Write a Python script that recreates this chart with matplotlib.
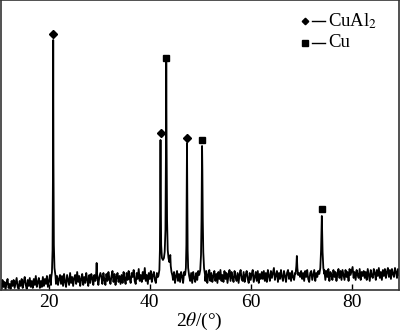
import numpy as np
import matplotlib
matplotlib.use("Agg")
import matplotlib.pyplot as plt

# ====== data (intensity in arbitrary units) ======
# background noise, sampled every 0.2 deg from 10.4 to 89.4
bg_start, bg_stop = 10.4, 89.4
bg = [
    6, 1, 10, 3, 8, 0, 7, 11, 2, 6, 1, 9, 4, 10, 2, 7, 12, 3, 1, 9,
    4, 11, 2, 8, 13, 5, 1, 10, 4, 12, 3, 9, 2, 11, 5, 14, 3, 8, 12, 2,
    9, 3, 13, 4, 11, 6, 14, 3, 9, 15, 5, 12, 4, 13, 16, 6, 14, 5, 11, 15,
    6, 14, 4, 16, 8, 3, 15, 10, 5, 17, 7, 13, 4, 12, 15, 6, 18, 8, 14, 4,
    11, 16, 5, 13, 7, 17, 10, 4, 15, 7, 16, 12, 5, 15, 9, 6, 16, 5, 13, 17,
    13, 6, 17, 10, 5, 16, 9, 18, 11, 6, 14, 19, 8, 16, 5, 13, 17, 8, 14, 6,
    15, 7, 18, 11, 6, 17, 10, 19, 12, 7, 17, 13, 20, 9, 6, 17, 11, 21, 9, 15,
    8, 18, 11, 22, 9, 15, 6, 17, 11, 19, 8, 15, 18, 10, 7, 17, 13, 9, 16, 12,
    14, 8, 18, 11, 7, 17, 12, 8, 19, 9, 16, 10, 18, 7, 14, 19, 9, 16, 8, 18,
    14, 7, 18, 10, 16, 8, 19, 12, 9, 17, 7, 18, 12, 8, 17, 10, 19, 12, 8, 16,
    16, 10, 18, 9, 19, 7, 15, 20, 9, 17, 8, 14, 19, 9, 16, 7, 18, 11, 20, 9,
    15, 8, 19, 11, 17, 7, 15, 20, 9, 18, 12, 8, 19, 13, 9, 17, 7, 16, 20, 11,
    9, 18, 8, 15, 19, 11, 7, 17, 10, 16, 20, 8, 13, 18, 9, 19, 7, 16, 11, 18,
    11, 19, 9, 17, 8, 20, 14, 9, 19, 12, 17, 22, 10, 15, 19, 8, 17, 11, 20, 13,
    9, 19, 14, 8, 17, 20, 11, 17, 9, 19, 13, 10, 17, 19, 11, 9, 17, 13, 19, 11,
    17, 9, 19, 13, 20, 11, 8, 17, 19, 10, 15, 20, 9, 17, 13, 19, 10, 17, 12, 19,
    16, 20, 10, 19, 13, 21, 9, 18, 15, 10, 20, 13, 18, 9, 16, 21, 12, 19, 10, 20,
    15, 10, 20, 13, 18, 9, 21, 15, 19, 23, 12, 18, 10, 20, 15, 12, 21, 10, 18, 14,
    19, 12, 18, 10, 21, 15, 9, 20, 14, 12, 21, 17, 10, 20, 14, 22, 12, 18, 10, 20,
    14, 21, 12, 18, 22, 13, 20, 11, 21, 16, 13, 22, 18, 12, 21, 15,
]

# peak profiles (2theta, intensity)
pk_tt = [
    [20.45, 20.6, 20.72, 20.8, 20.85, 20.9, 20.98, 21.1, 21.3],
    [29.3, 29.4, 29.46, 29.52, 29.65],
    [41.7, 41.9, 42.0, 42.08, 42.12, 42.17, 42.25, 42.4, 42.6, 42.8, 42.95,
     43.1, 43.2, 43.26, 43.32, 43.42, 43.55, 43.7, 43.85, 43.95, 44.06, 44.15, 44.3, 44.5],
    [47.0, 47.15, 47.25, 47.32, 47.37, 47.42, 47.5, 47.6, 47.8],
    [49.8, 50.0, 50.15, 50.25, 50.32, 50.36, 50.42, 50.5, 50.6, 50.75, 50.95],
    [68.9, 69.05, 69.15, 69.25, 69.4],
    [73.6, 73.8, 73.95, 74.05, 74.1, 74.15, 74.25, 74.4, 74.6],
]
pk_int = [
    [12, 18, 40, 120, 250, 130, 45, 22, 14],
    [12, 20, 27, 18, 11],
    [14, 20, 40, 110, 150, 100, 45, 32, 30, 32, 38,
     60, 140, 228, 150, 70, 40, 32, 28, 30, 35, 24, 18, 14],
    [15, 22, 45, 110, 147, 100, 40, 22, 14],
    [15, 20, 35, 70, 125, 144, 120, 70, 38, 22, 15],
    [16, 24, 34, 22, 15],
    [16, 22, 40, 65, 74, 62, 38, 22, 16],
]

# phase markers
cual2_tt = [20.85, 42.12, 47.37]
cual2_y = [256, 157, 152]
cu_tt = [43.26, 50.36, 74.1]
cu_y = [232, 150, 81]

# ====== build trace ======
tt_bg = np.linspace(bg_start, bg_stop, len(bg))
keep = np.ones(len(bg), dtype=bool)
for seg in pk_tt:
    keep &= ~((tt_bg >= seg[0]) & (tt_bg <= seg[-1]))
tt = np.concatenate([tt_bg[keep]] + [np.array(s) for s in pk_tt])
inten = np.concatenate([np.array(bg)[keep]] + [np.array(s) for s in pk_int])
order = np.argsort(tt)
tt, inten = tt[order], inten[order]

# ====== plot ======
plt.rcParams["font.family"] = ["Liberation Serif", "DejaVu Serif"]
plt.rcParams["mathtext.fontset"] = "stix"

fig = plt.figure(figsize=(4.0, 3.36), dpi=100)
ax = fig.add_axes([0.00125, 0.137, 0.995, 0.863])

ax.plot(tt, inten, color="black", lw=1.3)
ax.plot(cual2_tt, cual2_y, "D", color="black", ms=3.8, ls="none")
ax.plot(cu_tt, cu_y, "s", color="black", ms=4.8, ls="none")

ax.set_xlim(10.4, 89.3)
ax.set_ylim(0, 290)
ax.set_xticks([20, 40, 60, 80])
ax.set_yticks([])
ax.tick_params(axis="x", direction="in", length=4, width=1, labelsize=14, pad=3)
for s in ax.spines.values():
    s.set_color("#333333")
    s.set_linewidth(1.2)
ax.set_xlabel(r"2$\theta$/(°)", fontsize=14, labelpad=0)

# legend drawn by hand
def ax_xy(px, py):
    return (px - 0.5) / 398.0, (290.0 - py) / 290.0

for mk, py, label, ms in [("D", 21, r"CuAl$_2$", 3.3), ("s", 43, "Cu", 4.0)]:
    x0, y0 = ax_xy(305, py)
    ax.plot([x0], [y0], mk, color="black", ms=ms, transform=ax.transAxes)
    xa, _ = ax_xy(312, py)
    xb, _ = ax_xy(325, py)
    ax.plot([xa, xb], [y0, y0], color="black", lw=1.0, transform=ax.transAxes)
    xt, _ = ax_xy(328, py)
    ax.text(xt, y0, label, fontsize=13.5, va="center", ha="left", transform=ax.transAxes)

fig.savefig("out.png", dpi=100)
